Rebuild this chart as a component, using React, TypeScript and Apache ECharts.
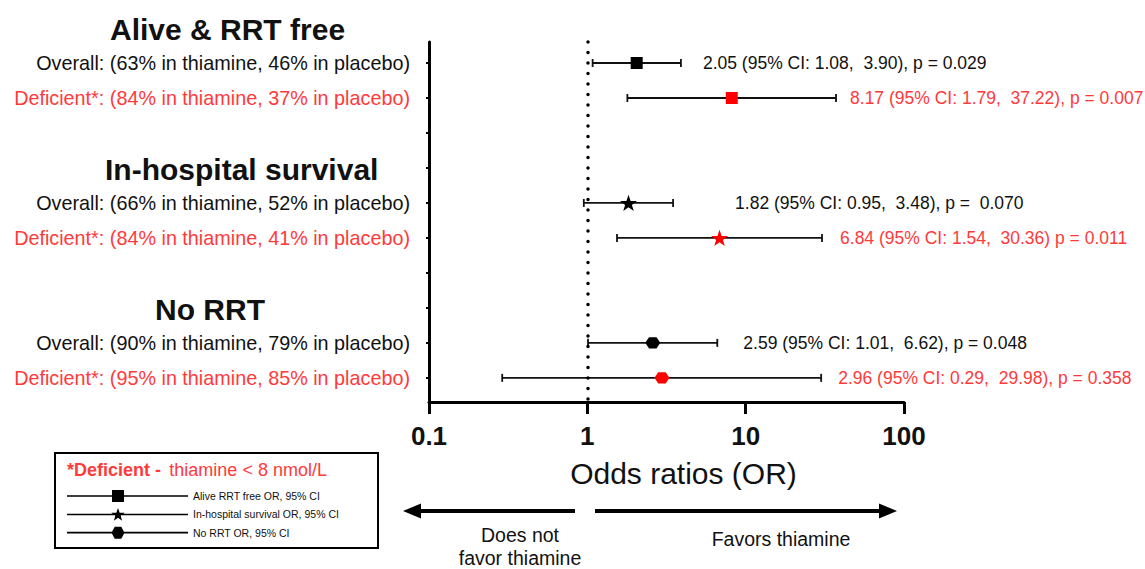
import React, { useEffect, useRef } from "react";
import * as echarts from "echarts";

// ---------- data ----------
const outcomes = ["Alive & RRT free", "In-hospital survival", "No RRT"];
const legendNames = [
  "Alive RRT free OR, 95% CI",
  "In-hospital survival OR, 95% CI",
  "No RRT OR, 95% CI",
];
const subgroups = ["Overall", "Deficient*"];
// [overall, deficient] per outcome
const thiaminePct = [[63, 84], [66, 84], [90, 95]];
const placeboPct = [[46, 37], [52, 41], [79, 85]];
const oddsRatio = [[2.05, 8.17], [1.82, 6.84], [2.59, 2.96]];
const ciLow = [[1.08, 1.79], [0.95, 1.54], [1.01, 0.29]];
const ciHigh = [[3.9, 37.22], [3.48, 30.36], [6.62, 29.98]];
const ciLabels = [
  ["2.05 (95% CI: 1.08,  3.90), p = 0.029", "8.17 (95% CI: 1.79,  37.22), p = 0.007"],
  ["1.82 (95% CI: 0.95,  3.48), p =  0.070", "6.84 (95% CI: 1.54,  30.36) p = 0.011"],
  ["2.59 (95% CI: 1.01,  6.62), p = 0.048", "2.96 (95% CI: 0.29,  29.98), p = 0.358"],
];
const xTicks = [0.1, 1, 10, 100];

// ---------- styles / layout ----------
const FONT = "'Liberation Sans', Arial, Helvetica, sans-serif";
const BLACK = "#111111";
const RED_TEXT = "#ff3a3a";
const RED_MARK = "#ff0000";
const labelGap = [[22, 14], [62, 18], [26, 17]];
const headingLeft = [110, 105, 155];

const STAR =
  "path://M0,-10L2.35,-3.24L9.51,-3.09L3.8,1.24L5.88,8.09L0,4L-5.88,8.09L-3.8,1.24L-9.51,-3.09L-2.35,-3.24Z";
const HEX = "path://M-1,0L-0.5,-0.866L0.5,-0.866L1,0L0.5,0.866L-0.5,0.866Z";
const SQUARE = "rect";
const markerSymbols = [SQUARE, STAR, HEX];
const markerSizes: any[] = [12, 17, [15, 13]];

const LINE = "M0,5.7H121V7.3H0Z";
const legendIcons = [
  "path://" + LINE + "M45,0.5H57V12.5H45Z",
  "path://" + LINE +
    "M51,0L52.65,4.73L57.66,4.84L53.66,7.87L55.11,12.66L51,9.8L46.89,12.66L48.34,7.87L44.34,4.84L49.35,4.73Z",
  "path://" + LINE + "M44.5,6.5L47.7,0.5L54.3,0.5L57.5,6.5L54.3,12.5L47.7,12.5Z",
];

const slotOf = (g: number, i: number) => g * 4 + i;

export default function App() {
  const ref = useRef<HTMLDivElement>(null);

  useEffect(() => {
    if (!ref.current) return;
    const chart = echarts.init(ref.current, null, { renderer: "svg" });

    const rowLabel = (g: number, i: number) =>
      `${subgroups[i]}: (${thiaminePct[g][i]}% in thiamine, ${placeboPct[g][i]}% in placebo)`;

    const errData: any[] = [];
    outcomes.forEach((_, g) =>
      subgroups.forEach((__, i) =>
        errData.push([ciLow[g][i], ciHigh[g][i], slotOf(g, i), g, i])
      )
    );

    const scatterSeries = outcomes.map((_, g) => ({
      type: "scatter",
      name: legendNames[g],
      symbol: markerSymbols[g],
      symbolSize: markerSizes[g],
      symbolKeepAspect: true,
      color: "#000000",
      itemStyle: { opacity: 1 },
      z: 5,
      silent: true,
      data: subgroups.map((__, i) => ({
        value: [oddsRatio[g][i], slotOf(g, i)],
        itemStyle: { color: i === 0 ? "#000000" : RED_MARK, opacity: 1 },
      })),
      markLine:
        g === 0
          ? {
              silent: true,
              symbol: ["none", "none"],
              label: { show: false },
              lineStyle: { color: "#000", width: 3.5, type: [0.1, 10.4], cap: "round", opacity: 1 },
              data: [{ xAxis: 1 }],
            }
          : undefined,
    }));

    chart.setOption({
      animation: false,
      textStyle: { fontFamily: FONT },
      grid: { left: 429, right: 241, top: 42, bottom: 167, containLabel: false },
      xAxis: {
        type: "log",
        logBase: 10,
        min: 0.1,
        max: 100,
        name: "Odds ratios (OR)",
        nameLocation: "middle",
        nameGap: 56,
        nameTextStyle: { fontSize: 30, color: BLACK, fontFamily: FONT, padding: [0, 0, 0, 34] },
        axisLine: { show: true, onZero: false, lineStyle: { color: "#000", width: 3 } },
        axisTick: { show: true, length: 12, lineStyle: { color: "#000", width: 3 }, customValues: xTicks },
        minorTick: { show: false },
        splitLine: { show: false },
        axisLabel: {
          customValues: xTicks,
          margin: 21,
          fontSize: 26,
          fontWeight: "bold",
          color: BLACK,
          fontFamily: FONT,
          formatter: (v: number) => String(v),
        },
      },
      yAxis: {
        type: "value",
        inverse: true,
        min: -0.6,
        max: 9.69,
        axisLine: { show: true, onZero: false, lineStyle: { color: "#000", width: 3 } },
        splitLine: { show: false },
        axisTick: {
          show: true,
          length: 3,
          lineStyle: { color: "#000", width: 2 },
          customValues: [0, 1, 2, 3, 4, 5, 6, 7, 8, 9],
        },
        axisLabel: {
          customValues: outcomes.flatMap((_, g) => subgroups.map((__, i) => slotOf(g, i))),
          margin: 19,
          formatter: (v: number) => {
            const s = Math.round(v);
            const g = Math.floor(s / 4);
            const i = s % 4;
            if (g < 0 || g >= outcomes.length || i > 1) return "";
            return `{${i === 0 ? "k" : "r"}|${rowLabel(g, i)}}`;
          },
          rich: {
            k: { fontSize: 19.8, color: BLACK, fontFamily: FONT },
            r: { fontSize: 19.8, color: RED_TEXT, fontFamily: FONT },
          },
        },
      },
      legend: {
        orient: "vertical",
        left: 67,
        top: 490,
        padding: 0,
        itemWidth: 121,
        itemHeight: 13,
        itemGap: 6,
        selectedMode: false,
        textStyle: { fontSize: 10.5, color: BLACK, fontFamily: FONT },
        data: legendNames.map((n, g) => ({ name: n, icon: legendIcons[g], itemStyle: { opacity: 1 } })),
      },
      graphic: [
        ...outcomes.map((t, g) => ({
          type: "text",
          left: headingLeft[g],
          top: [14, 154, 294][g],
          style: {
            text: t,
            font: `bold 30px ${FONT}`,
            fill: BLACK,
          },
        })),
        {
          type: "rect",
          shape: { x: 55, y: 453, width: 323, height: 95 },
          style: { fill: "none", stroke: "#000", lineWidth: 2 },
          z: 1,
        },
        {
          type: "text",
          x: 67,
          y: 470,
          style: {
            text: "{b|*Deficient - } {n|thiamine < 8 nmol/L}",
            verticalAlign: "middle",
            rich: {
              b: { font: `bold 18px ${FONT}`, fill: RED_TEXT },
              n: { font: `18px ${FONT}`, fill: RED_TEXT },
            },
          },
        },
        // arrows
        { type: "line", shape: { x1: 418, y1: 511, x2: 575, y2: 511 }, style: { stroke: "#000", lineWidth: 4 } },
        { type: "polygon", shape: { points: [[403, 511], [421, 503.5], [421, 518.5]] }, style: { fill: "#000" } },
        { type: "line", shape: { x1: 595, y1: 511, x2: 882, y2: 511 }, style: { stroke: "#000", lineWidth: 4 } },
        { type: "polygon", shape: { points: [[897, 511], [879, 503.5], [879, 518.5]] }, style: { fill: "#000" } },
        {
          type: "text",
          x: 520,
          y: 523,
          style: {
            text: "Does not\nfavor thiamine",
            align: "center",
            verticalAlign: "top",
            lineHeight: 23,
            font: `19.5px ${FONT}`,
            fill: BLACK,
          },
        },
        {
          type: "text",
          x: 781,
          y: 539,
          style: {
            text: "Favors thiamine",
            align: "center",
            verticalAlign: "middle",
            font: `19.5px ${FONT}`,
            fill: BLACK,
          },
        },
      ],
      series: [
        {
          type: "custom",
          silent: true,
          z: 3,
          clip: false,
          encode: { x: [0, 1], y: 2 },
          data: errData,
          renderItem: (params: any, api: any) => {
            const lo = api.coord([api.value(0), api.value(2)]);
            const hi = api.coord([api.value(1), api.value(2)]);
            const g = api.value(3);
            const i = api.value(4);
            const cap = 4;
            const st = { stroke: "#111", lineWidth: 1.8 };
            return {
              type: "group",
              children: [
                { type: "line", shape: { x1: lo[0], y1: lo[1], x2: hi[0], y2: hi[1] }, style: st },
                { type: "line", shape: { x1: lo[0], y1: lo[1] - cap, x2: lo[0], y2: lo[1] + cap }, style: st },
                { type: "line", shape: { x1: hi[0], y1: hi[1] - cap, x2: hi[0], y2: hi[1] + cap }, style: st },
                {
                  type: "text",
                  x: hi[0] + labelGap[g][i],
                  y: hi[1],
                  style: {
                    text: ciLabels[g][i],
                    fill: i === 0 ? BLACK : RED_TEXT,
                    font: `17.5px ${FONT}`,
                    verticalAlign: "middle",
                    align: "left",
                  },
                },
              ],
            };
          },
        },
        ...scatterSeries,
      ],
    });

    return () => chart.dispose();
  }, []);

  return (
    <div
      ref={ref}
      style={{ position: "fixed", left: 0, top: 0, width: 1145, height: 569, background: "#fff" }}
    />
  );
}
